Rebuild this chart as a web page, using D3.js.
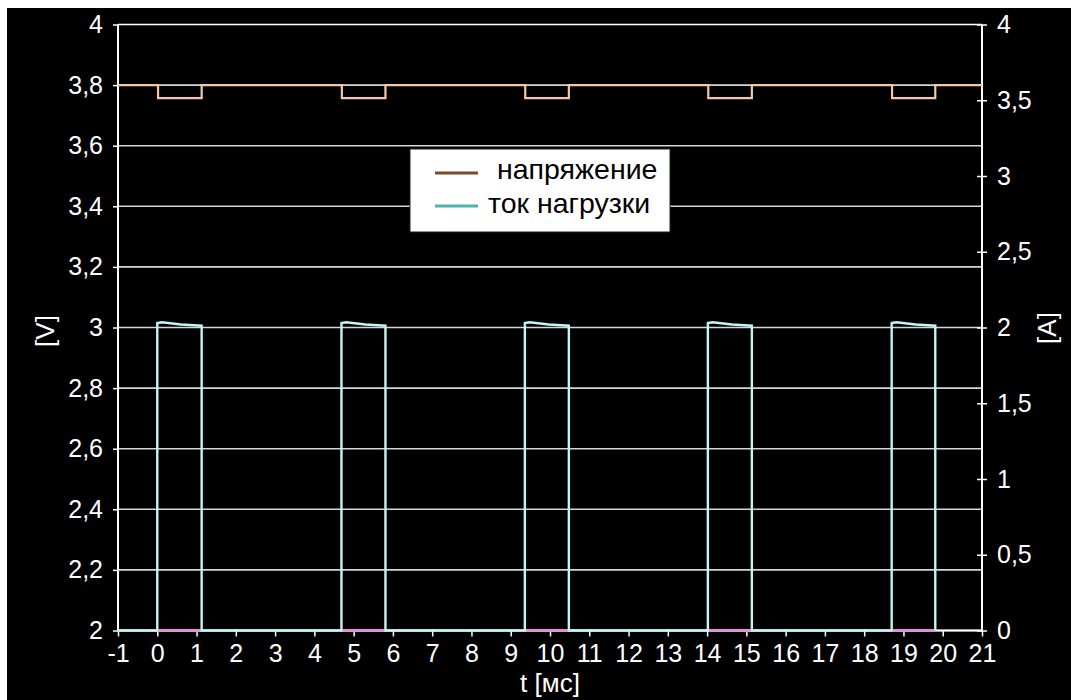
<!DOCTYPE html>
<html><head><meta charset="utf-8">
<script src="https://cdnjs.cloudflare.com/ajax/libs/d3/7.8.5/d3.min.js"></script>
<style>html,body{margin:0;padding:0;background:#fff;}svg{display:block;}</style>
</head><body>
<svg id="c" width="1071" height="700"></svg>
<script>
// ---- data ----
const xTicks = [-1,0,1,2,3,4,5,6,7,8,9,10,11,12,13,14,15,16,17,18,19,20,21];
const vTicks = [2,2.2,2.4,2.6,2.8,3,3.2,3.4,3.6,3.8,4];
const aTicks = [0,0.5,1,1.5,2,2.5,3,3.5,4];

// voltage [V]
const timeV   = [-1, 0.02, 0.02, 1.13, 1.13, 4.70, 4.70, 5.81, 5.81, 9.37, 9.37, 10.48, 10.48, 14.03, 14.03, 15.14, 15.14, 18.71, 18.71, 19.81, 19.81, 21];
const voltage = [3.8, 3.8, 3.757, 3.757, 3.8, 3.8, 3.757, 3.757, 3.8, 3.8, 3.757, 3.757, 3.8, 3.8, 3.757, 3.757, 3.8, 3.8, 3.757, 3.757, 3.8, 3.8];

// load current [A]
const timeI   = [-1, 0.0, 0.0, 0.12, 0.6, 1.13, 1.13, 4.69, 4.69, 4.81, 5.3, 5.81, 5.81, 9.36, 9.36, 9.48, 9.97, 10.48, 10.48, 14.02, 14.02, 14.14, 14.63, 15.14, 15.14, 18.70, 18.70, 18.82, 19.31, 19.81, 19.81];
const current = [0, 0, 2.03, 2.035, 2.02, 2.012, 0, 0, 2.03, 2.035, 2.02, 2.012, 0, 0, 2.03, 2.035, 2.02, 2.012, 0, 0, 2.03, 2.035, 2.02, 2.012, 0, 0, 2.03, 2.035, 2.02, 2.012, 0];

// pink base segments during pulses (on 2 V baseline)
const timeP = [0.0, 1.13, 1.13, 4.69, 4.69, 5.81, 5.81, 9.36, 9.36, 10.48, 10.48, 14.02, 14.02, 15.14, 15.14, 18.70, 18.70, 19.81];
const pinkV = [2, 2, null, null, 2, 2, null, null, 2, 2, null, null, 2, 2, null, null, 2, 2];

const legendLabels = ["напряжение", "ток нагрузки"];
const fmt = d => String(d).replace(".", ",");

// ---- drawing ----
const svg = d3.select("#c");
svg.append("rect").attr("x",7).attr("y",8).attr("width",1064).attr("height",692).attr("fill","#000");

const L=118, R=982, T=24.5, B=630.5;
const x  = d3.scaleLinear().domain([-1,21]).range([L,R]);
const yV = d3.scaleLinear().domain([2,4]).range([B,T]);
const yA = d3.scaleLinear().domain([0,4]).range([B,T]);

const font = "Liberation Sans, Arial, sans-serif";

// gridlines
svg.append("g").selectAll("line").data(vTicks).join("line")
  .attr("x1",L).attr("x2",R).attr("y1",d=>yV(d)).attr("y2",d=>yV(d))
  .attr("stroke", d=> d===4||d===2 ? "#fff" : "#d6d6d6").attr("stroke-width",1.6);

// axes
const gl = svg.append("g").attr("transform",`translate(${L},0)`)
  .call(d3.axisLeft(yV).tickValues(vTicks).tickFormat(fmt).tickSize(5).tickPadding(10));
const gr = svg.append("g").attr("transform",`translate(${R},0)`)
  .call(d3.axisRight(yA).tickValues(aTicks).tickFormat(fmt).tickSize(5).tickPadding(10));
const gb = svg.append("g").attr("transform",`translate(0,${B})`)
  .call(d3.axisBottom(x).tickValues(xTicks).tickFormat(d=>String(d)).tickSize(6).tickPadding(8));
[gl,gr,gb].forEach(g=>{
  g.selectAll(".domain").attr("stroke","#fff").attr("stroke-width",2);
  g.selectAll(".tick line").attr("stroke","#fff").attr("stroke-width",1.5);
  g.selectAll("text").attr("fill","#fff").attr("font-family",font).attr("font-size",25);
});
gr.selectAll(".tick line").attr("x1",-5);
gr.select(".domain").attr("d",`M0,${T}V${B}`);
gl.select(".domain").attr("d",`M0,${T}V${B}`);
gb.select(".domain").attr("d",`M${L},0H${R}`);

// series
const lineV = d3.line().x((d,i)=>x(timeV[i])).y(d=>yV(d));
svg.append("path").datum(voltage).attr("d",lineV)
  .attr("fill","none").attr("stroke","#f6c8a2").attr("stroke-width",2.2);

const lineP = d3.line().defined(d=>d!==null).x((d,i)=>x(timeP[i])).y(d=>yV(d));
svg.append("path").datum(pinkV).attr("d",lineP)
  .attr("fill","none").attr("stroke","#e58fd6").attr("stroke-width",3);

const lineI = d3.line().x((d,i)=>x(timeI[i])).y(d=>yA(d));
svg.append("path").datum(current).attr("d",lineI)
  .attr("fill","none").attr("stroke","#c4f5f5").attr("stroke-width",2.4);

// axis titles
svg.append("text").attr("transform","translate(54,331) rotate(-90)").attr("text-anchor","middle")
  .attr("fill","#fff").attr("font-family",font).attr("font-size",26).text("[V]");
svg.append("text").attr("transform","translate(1056,328) rotate(-90)").attr("text-anchor","middle")
  .attr("fill","#fff").attr("font-family",font).attr("font-size",26).text("[A]");
svg.append("text").attr("x",550).attr("y",692).attr("text-anchor","middle")
  .attr("fill","#fff").attr("font-family",font).attr("font-size",26).text("t [мс]");

// legend
const lg = svg.append("g");
lg.append("rect").attr("x",410).attr("y",149).attr("width",260).attr("height",83)
  .attr("fill","#fff").attr("stroke","#222").attr("stroke-width",1);
const swCol = ["#7b4b2a", "#4fb3ad"];
const rows = [{sy:173, tx:497, ty:179}, {sy:206, tx:488, ty:213}];
legendLabels.forEach((lab,i)=>{
  lg.append("line").attr("x1",435).attr("x2",478).attr("y1",rows[i].sy).attr("y2",rows[i].sy)
    .attr("stroke",swCol[i]).attr("stroke-width",3);
  lg.append("text").attr("x",rows[i].tx).attr("y",rows[i].ty).attr("fill","#000")
    .attr("font-family",font).attr("font-size",28.5).text(lab);
});
</script>
</body></html>
